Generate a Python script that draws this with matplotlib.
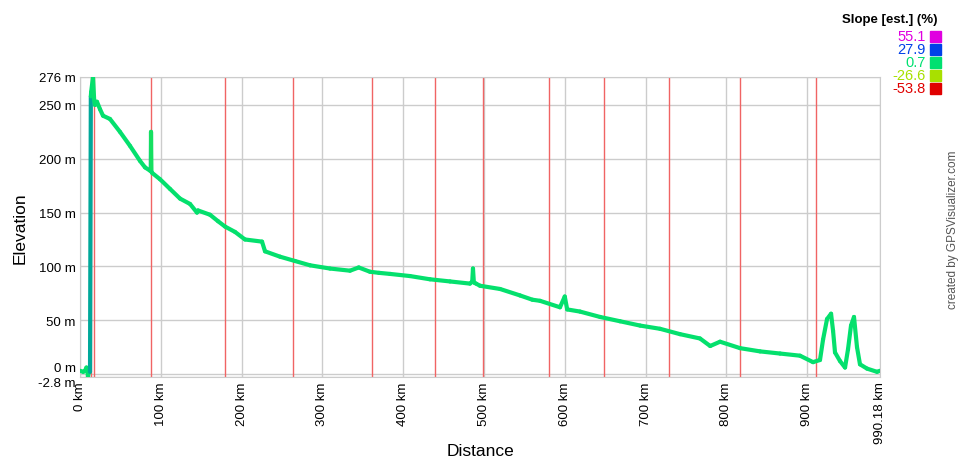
import numpy as np
import matplotlib
matplotlib.use("Agg")
import matplotlib.pyplot as plt
from matplotlib.collections import LineCollection
from matplotlib.colors import LinearSegmentedColormap, Normalize

plt.rcParams['font.family'] = ['Liberation Sans', 'DejaVu Sans']

# track profile (km, m)
dist_km = [0, 4.0, 6.2, 8.0, 9.2, 9.9, 11.0, 12.4, 13.4, 13.8, 16.1, 17.5, 18.6, 21.0,
           24.8, 28.5, 37.1, 49.5, 61.9, 74.3, 80.5, 86.6, 87.6, 87.9, 88.4, 89.1,
           99.0, 111.4, 123.8, 136.2, 144.8, 146.0, 160.9, 170.8, 179.5, 191.9,
           204.2, 225.3, 229.0, 247.6, 266.1, 284.7, 309.4, 334.2, 345.0, 358.9,
           370.0, 383.7, 408.5, 433.2, 458.0, 482.7, 485.5, 486.4, 487.5, 490.2,
           495.1, 519.9, 544.6, 560.0, 569.4, 594.1, 600.0, 603.0, 618.9, 643.7,
           668.4, 693.2, 717.9, 742.7, 767.4, 780.0, 792.2, 817.0, 841.7, 866.5,
           891.2, 907.3, 915.9, 919.7, 924.6, 929.6, 932.1, 934.5, 940.7, 946.9,
           950.6, 954.3, 958.0, 961.7, 965.4, 974.1, 986.5, 990.18]
elev_m = [3, 2, 3, 6, 2, -2.8, 3, 2, 258, 262, 276, 255, 250, 253,
          246, 240, 237, 225, 212, 198, 192, 189, 190, 225, 188, 187,
          181, 172, 163, 158, 150, 152, 148, 142, 137, 132,
          125, 123, 114, 109, 105, 101, 98, 96, 99, 95,
          94, 93, 91, 88, 86, 84, 86, 98, 85, 84,
          82, 79, 73, 69, 68, 62, 72, 60, 58, 53,
          49, 45, 42, 37, 33, 26, 30, 24, 21, 19,
          17, 11, 13, 32, 51, 56, 40, 20, 12, 6,
          23, 45, 53, 25, 9, 5, 2, 3]

# marker lines along the track (km)
marks_km = [14.2, 17.9, 88.4, 179.5, 263.6, 361.4, 439.4, 499.4,
            580.5, 648.6, 729.0, 816.9, 911.0]

slope_levels = [55.1, 27.9, 0.7, -26.6, -53.8]
slope_colors = ['#e000e0', '#0040e8', '#00e070', '#a8e000', '#e00000']

x_ticks = [0, 100, 200, 300, 400, 500, 600, 700, 800, 900, 990.18]
x_labels = ['0 km', '100 km', '200 km', '300 km', '400 km', '500 km', '600 km',
            '700 km', '800 km', '900 km', '990.18 km']
y_ticks = [-2.8, 0, 50, 100, 150, 200, 250, 276]
y_labels = ['-2.8 m', '0 m', '50 m', '100 m', '150 m', '200 m', '250 m', '276 m']

fig = plt.figure(figsize=(9.6, 4.6), dpi=100)
ax = fig.add_axes([80 / 960, 1 - 378 / 460, 800 / 960, 300 / 460])

ax.set_xlim(0, 990.18)
ax.set_ylim(-2.8, 276)

for v in x_ticks:
    ax.axvline(v, color='#cccccc', lw=1.0, zorder=1)
for v in y_ticks:
    ax.axhline(v, color='#cccccc', lw=1.0, zorder=1)
for v in marks_km:
    ax.axvline(v, color='#f06464', lw=1.0, zorder=2)

# profile coloured by slope
d = np.array(dist_km)
e = np.array(elev_m)
slope = np.diff(e) / (np.diff(d) * 1000) * 100
cmap = LinearSegmentedColormap.from_list('slope', list(zip(
    [0, 0.25, 0.5, 0.75, 1.0], slope_colors[::-1])))
norm = Normalize(-53.8, 55.1)
segs = [[(d[i], e[i]), (d[i + 1], e[i + 1])] for i in range(len(d) - 1)]
cols = [cmap(norm(s * 0.4)) for s in slope]
lc = LineCollection(segs, colors=cols, linewidths=3.0, capstyle='round',
                    joinstyle='round', zorder=3)
ax.add_collection(lc)

ax.set_xticks(x_ticks)
ax.set_xticklabels(x_labels, rotation=90, fontsize=9.5)
ax.set_yticks(y_ticks)
ax.set_yticklabels(y_labels, fontsize=9.5)
ax.tick_params(length=0, pad=3)
ylab = ax.get_yticklabels()
ylab[0].set_va('top')
ylab[1].set_va('bottom')
for s in ax.spines.values():
    s.set_color('#cccccc')

fig.text(20 / 960, 1 - 228 / 460, 'Elevation', rotation=90, fontsize=12.5,
         ha='center', va='center')
fig.text(480 / 960, 1 - 452 / 460, 'Distance', fontsize=12.5, ha='center', va='center')

# slope legend
fig.text(937 / 960, 1 - 20 / 460, 'Slope [est.] (%)', fontsize=9.5, fontweight='bold',
         ha='right', va='center')
for i, (lev, col) in enumerate(zip(slope_levels, slope_colors)):
    yy = 1 - (37 + i * 13) / 460
    fig.text(926 / 960, yy, f'{lev}', color=col, fontsize=10.5, ha='right', va='center')
    fig.patches.append(plt.Rectangle((930 / 960, yy - 5.5 / 460), 11 / 960, 11 / 460,
                                     transform=fig.transFigure, color=col, figure=fig))

fig.text(953 / 960, 1 - 230 / 460, 'created by GPSVisualizer.com', rotation=90,
         fontsize=8.5, color='#555555', ha='center', va='center')

fig.savefig('out.png', dpi=100)
